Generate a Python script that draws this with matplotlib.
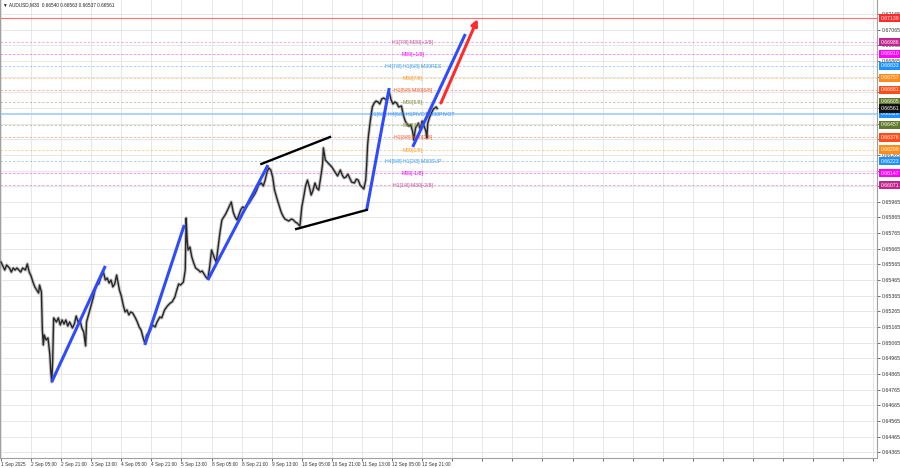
import numpy as np
import matplotlib
matplotlib.use('Agg')
import matplotlib.pyplot as plt
import matplotlib.transforms as mtransforms

# ---- data (bar index = M30 bars from 1 Sep 13:00) ----
title_text = '\u25bc AUDUSD,M30  0.66540 0.66563 0.66537 0.66561'

bar_idx = [0, 2, 4, 6, 9, 11, 13, 15, 17, 19, 21, 23, 26, 28, 30, 32, 34, 36, 38, 40,
           41, 43, 44, 45, 46, 48, 50, 52, 53, 54, 55, 56, 59, 61, 63, 65, 67, 69, 71, 73,
           76, 78, 80, 82, 84, 86, 88, 90, 91, 94, 96, 98, 100, 102, 104, 106, 109, 111, 113, 115,
           117, 119, 121, 123, 126, 128, 130, 132, 134, 136, 138, 140, 143, 145, 147, 149, 151, 153, 155, 157,
           159, 161, 164, 166, 169, 171, 174, 177, 180, 182, 185, 187, 189, 191, 194, 196, 197, 198, 199, 201,
           203, 205, 207, 210, 212, 214, 216, 218, 220, 222, 224, 227, 229, 231, 233, 235, 237, 239, 241, 244,
           245, 247, 249, 251, 253, 255, 257, 260, 262, 264, 266, 268, 270, 272, 274, 277, 279, 281, 283, 285,
           287, 289, 291, 294, 296, 298, 300, 302, 304, 306, 309, 311, 313, 315, 317, 318, 320, 322, 324, 326,
           328, 330, 332, 334, 336, 338, 340, 342, 343, 345, 347, 350, 352, 354, 356, 358, 361, 363, 365, 367,
           369, 371, 373, 376, 378, 380, 382, 384, 386, 388, 389, 390, 391, 393, 395, 397, 399, 401, 403, 405,
           407, 410, 412, 413, 415, 417, 419, 421, 423, 426, 428, 430, 432, 434, 436, 438, 439, 441, 444, 446,
           448, 450, 452, 453, 454, 456, 458, 460, 463, 464]

closes = [0.65580, 0.65555, 0.65529, 0.65561, 0.65542, 0.65516, 0.65542, 0.65529, 0.65542, 0.65529,
          0.65516, 0.65542, 0.65529, 0.65568, 0.65516, 0.65491, 0.65452, 0.65421, 0.65401, 0.65382,
          0.65433, 0.65389, 0.65146, 0.65050, 0.65114, 0.65082, 0.65095, 0.64986, 0.64877, 0.64814,
          0.64954, 0.65223, 0.65197, 0.65223, 0.65178, 0.65210, 0.65184, 0.65210, 0.65171, 0.65197,
          0.65159, 0.65184, 0.65235, 0.65197, 0.65210, 0.65159, 0.65133, 0.65044, 0.65197, 0.65261,
          0.65306, 0.65350, 0.65401, 0.65433, 0.65440, 0.65478, 0.65516, 0.65465, 0.65478, 0.65446,
          0.65465, 0.65421, 0.65440, 0.65497, 0.65401, 0.65363, 0.65306, 0.65261, 0.65274, 0.65242,
          0.65261, 0.65255, 0.65223, 0.65197, 0.65165, 0.65146, 0.65101, 0.65063, 0.65114, 0.65127,
          0.65146, 0.65178, 0.65165, 0.65197, 0.65229, 0.65223, 0.65274, 0.65299, 0.65318, 0.65325,
          0.65357, 0.65401, 0.65440, 0.65433, 0.65452, 0.65529, 0.65861, 0.65721, 0.65657, 0.65676,
          0.65612, 0.65574, 0.65542, 0.65529, 0.65516, 0.65523, 0.65504, 0.65484, 0.65472, 0.65548,
          0.65657, 0.65606, 0.65580, 0.65676, 0.65772, 0.65849, 0.65868, 0.65887, 0.65913, 0.65951,
          0.65964, 0.65900, 0.65868, 0.65849, 0.65880, 0.65913, 0.65932, 0.65925, 0.65944, 0.65957,
          0.65977, 0.65996, 0.66015, 0.66040, 0.66072, 0.66085, 0.66066, 0.66104, 0.66155, 0.66181,
          0.66168, 0.66123, 0.66040, 0.65977, 0.65938, 0.65900, 0.65874, 0.65855, 0.65849, 0.65842,
          0.65855, 0.65849, 0.65836, 0.65829, 0.65817, 0.65810, 0.65932, 0.65996, 0.66066, 0.66104,
          0.66059, 0.66008, 0.66040, 0.66085, 0.66053, 0.66040, 0.66117, 0.66200, 0.66309, 0.66232,
          0.66219, 0.66200, 0.66187, 0.66168, 0.66149, 0.66130, 0.66168, 0.66136, 0.66117, 0.66123,
          0.66142, 0.66117, 0.66091, 0.66085, 0.66110, 0.66104, 0.66072, 0.66059, 0.66047, 0.66104,
          0.66200, 0.66328, 0.66392, 0.66488, 0.66571, 0.66596, 0.66609, 0.66603, 0.66590, 0.66622,
          0.66628, 0.66616, 0.66647, 0.66667, 0.66616, 0.66590, 0.66603, 0.66596, 0.66571, 0.66577,
          0.66520, 0.66481, 0.66462, 0.66449, 0.66456, 0.66411, 0.66360, 0.66436, 0.66468, 0.66430,
          0.66481, 0.66449, 0.66417, 0.66372, 0.66468, 0.66507, 0.66532, 0.66558, 0.66571, 0.66561]

x_tick_labels = ['1 Sep 2025', '2 Sep 05:00', '2 Sep 21:00', '3 Sep 13:00', '4 Sep 05:00',
                 '4 Sep 21:00', '5 Sep 13:00', '8 Sep 05:00', '8 Sep 21:00', '9 Sep 13:00',
                 '10 Sep 05:00', '10 Sep 21:00', '11 Sep 13:00', '12 Sep 05:00', '12 Sep 21:00']

# trend lines: (bar0, price0, bar1, price1)
blue_lines = [(54, 0.64814, 111, 0.65555),
              (153, 0.65050, 195, 0.65817),
              (220, 0.65465, 284, 0.66200),
              (389, 0.65913, 413, 0.66692),
              (438, 0.66316, 494, 0.67037)]
black_lines = [(277, 0.66207, 350, 0.66379),
               (314, 0.65791, 389, 0.65913)]
red_arrow = (468, 0.66596, 507, 0.67133)

# Murrey-style levels
level_prices = [0.66986, 0.66910, 0.66833, 0.66757, 0.66681, 0.66605, 0.66529,
                0.66457, 0.66376, 0.66299, 0.66223, 0.66147, 0.66071]
level_labels = ['H1[7/8] M30[+2/8]', 'M30[+1/8]', 'H4[7/8] H1[6/8] M30RES', 'M30[7/8]',
                'H1[5/8] M30[6/8]', 'M30[5/8]', 'D1[6/8] H4[6/8] H1PIVOT M30PIVOT',
                'M30[3/8]', 'H1[3/8] M30[2/8]', 'M30[1/8]', 'H4[5/8] H1[2/8] M30SUP',
                'M30[-1/8]', 'H1[1/8] M30[-2/8]']
target_price = 0.67139
last_price = 0.66561

# styles for the levels (text colour, box colour)
level_text_colors = ['#d04aa0', '#ff00ff', '#3d9be9', '#ff9a1f', '#ff5a2a', '#7d8a3a', '#2f8fff',
                     '#7d8a3a', '#ff5a2a', '#ff9a1f', '#3d9be9', '#ff00ff', '#d04aa0']
level_box_colors = ['#c2258f', '#ff00ff', '#1e90ff', '#ff8c1a', '#ff4d1a', '#5f7a2a', '#1e90ff',
                    '#5f7a2a', '#ff4d1a', '#ff8c1a', '#1e90ff', '#ff00ff', '#c2258f']

FONT = ['Liberation Sans Narrow', 'Liberation Sans', 'DejaVu Sans']

# ---- figure ----
fig = plt.figure(figsize=(9, 4.68), dpi=100)
ax = fig.add_axes([0.0, 10 / 468, 877 / 900, 458 / 468])
ax.set_facecolor('white')

ax.set_xlim(-1.06, 931.9)
ax.set_ylim(0.643279, 0.672545)

# grid
for gx in range(0, 932, 32):
    ax.axvline(gx, color='#e3e3e3', lw=0.6, zorder=0)
price_ticks = np.round(np.arange(0.64365, 0.6725, 0.001), 5)
for gy in price_ticks:
    ax.axhline(gy, color='#e3e3e3', lw=0.6, zorder=0)

# levels
ax.axhline(target_price, color='#ff7070', lw=0.8, zorder=1)
for p, lab, tc in zip(level_prices, level_labels, level_text_colors):
    if 'PIVOT' in lab:
        ax.axhline(p, color='#a8d0ff', lw=1.3, zorder=1)
    else:
        ax.axhline(p, color=tc, lw=0.6, ls=(0, (3, 2)), alpha=0.5, zorder=1)

# price
ax.plot(bar_idx, closes, color='#9a9a9a', lw=2.4, alpha=0.6, zorder=2)
ax.plot(bar_idx, closes, color='#262626', lw=1.0, zorder=3)

# level labels
for p, lab, tc in zip(level_prices, level_labels, level_text_colors):
    ax.text(438, p - 0.00003, lab, ha='center', va='center', fontsize=3.7,
            color=tc, zorder=4, family=FONT)

# trend lines
for b0, p0, b1, p1 in blue_lines:
    ax.plot([b0, b1], [p0, p1], color='#2f4bff', lw=2.2, zorder=5, solid_capstyle='butt')
for b0, p0, b1, p1 in black_lines:
    ax.plot([b0, b1], [p0, p1], color='black', lw=1.7, zorder=5)
ax.annotate('', xy=(red_arrow[2], red_arrow[3]), xytext=(red_arrow[0], red_arrow[1]),
            arrowprops=dict(arrowstyle='-|>', color='#ff2a2a', lw=2.2, mutation_scale=9,
                            shrinkA=0, shrinkB=0), zorder=6)

# axes styling
ax.spines['top'].set_visible(False)
for s in ['left', 'right', 'bottom']:
    ax.spines[s].set_color('#a0a0a0')
    ax.spines[s].set_linewidth(0.8)

# right price scale: tick labels hidden where a price box sits on them
box_prices = level_prices + [target_price, last_price]
ax.yaxis.tick_right()
ax.set_yticks(price_ticks)
ax.set_yticklabels(['' if min(abs(t - b) for b in box_prices) < 0.0002 else '%.5f' % t
                    for t in price_ticks])
ax.tick_params(axis='y', labelsize=3.8, colors='#333333', length=2, pad=1.5, width=0.5)
for lbl in ax.get_yticklabels():
    lbl.set_family(FONT)

xt = list(range(0, 932, 32))
ax.set_xticks(xt)
ax.set_xticklabels(x_tick_labels + [''] * (len(xt) - len(x_tick_labels)))
ax.tick_params(axis='x', labelsize=3.4, colors='#333333', length=2, pad=1.0, width=0.5)
for lbl in ax.get_xticklabels():
    lbl.set_horizontalalignment('left')
    lbl.set_family(FONT)

# price boxes on the right scale
trans = mtransforms.blended_transform_factory(ax.transAxes, ax.transData)
boxes = list(zip(level_prices, level_box_colors)) + [(target_price, '#ff2a2a'), (last_price, '#111111')]
for p, bc in boxes:
    ax.text(1.0045, p, '%.5f' % p, transform=trans, ha='left', va='center', fontsize=3.7,
            color='white', zorder=7, family=FONT,
            bbox=dict(boxstyle='square,pad=0.3', facecolor=bc, edgecolor='none'), clip_on=False)

# title
ax.text(0.003, 0.994, title_text, transform=ax.transAxes, ha='left', va='top', fontsize=3.4,
        color='#222222', family=FONT)

fig.savefig('out.png', dpi=100, facecolor='white')
